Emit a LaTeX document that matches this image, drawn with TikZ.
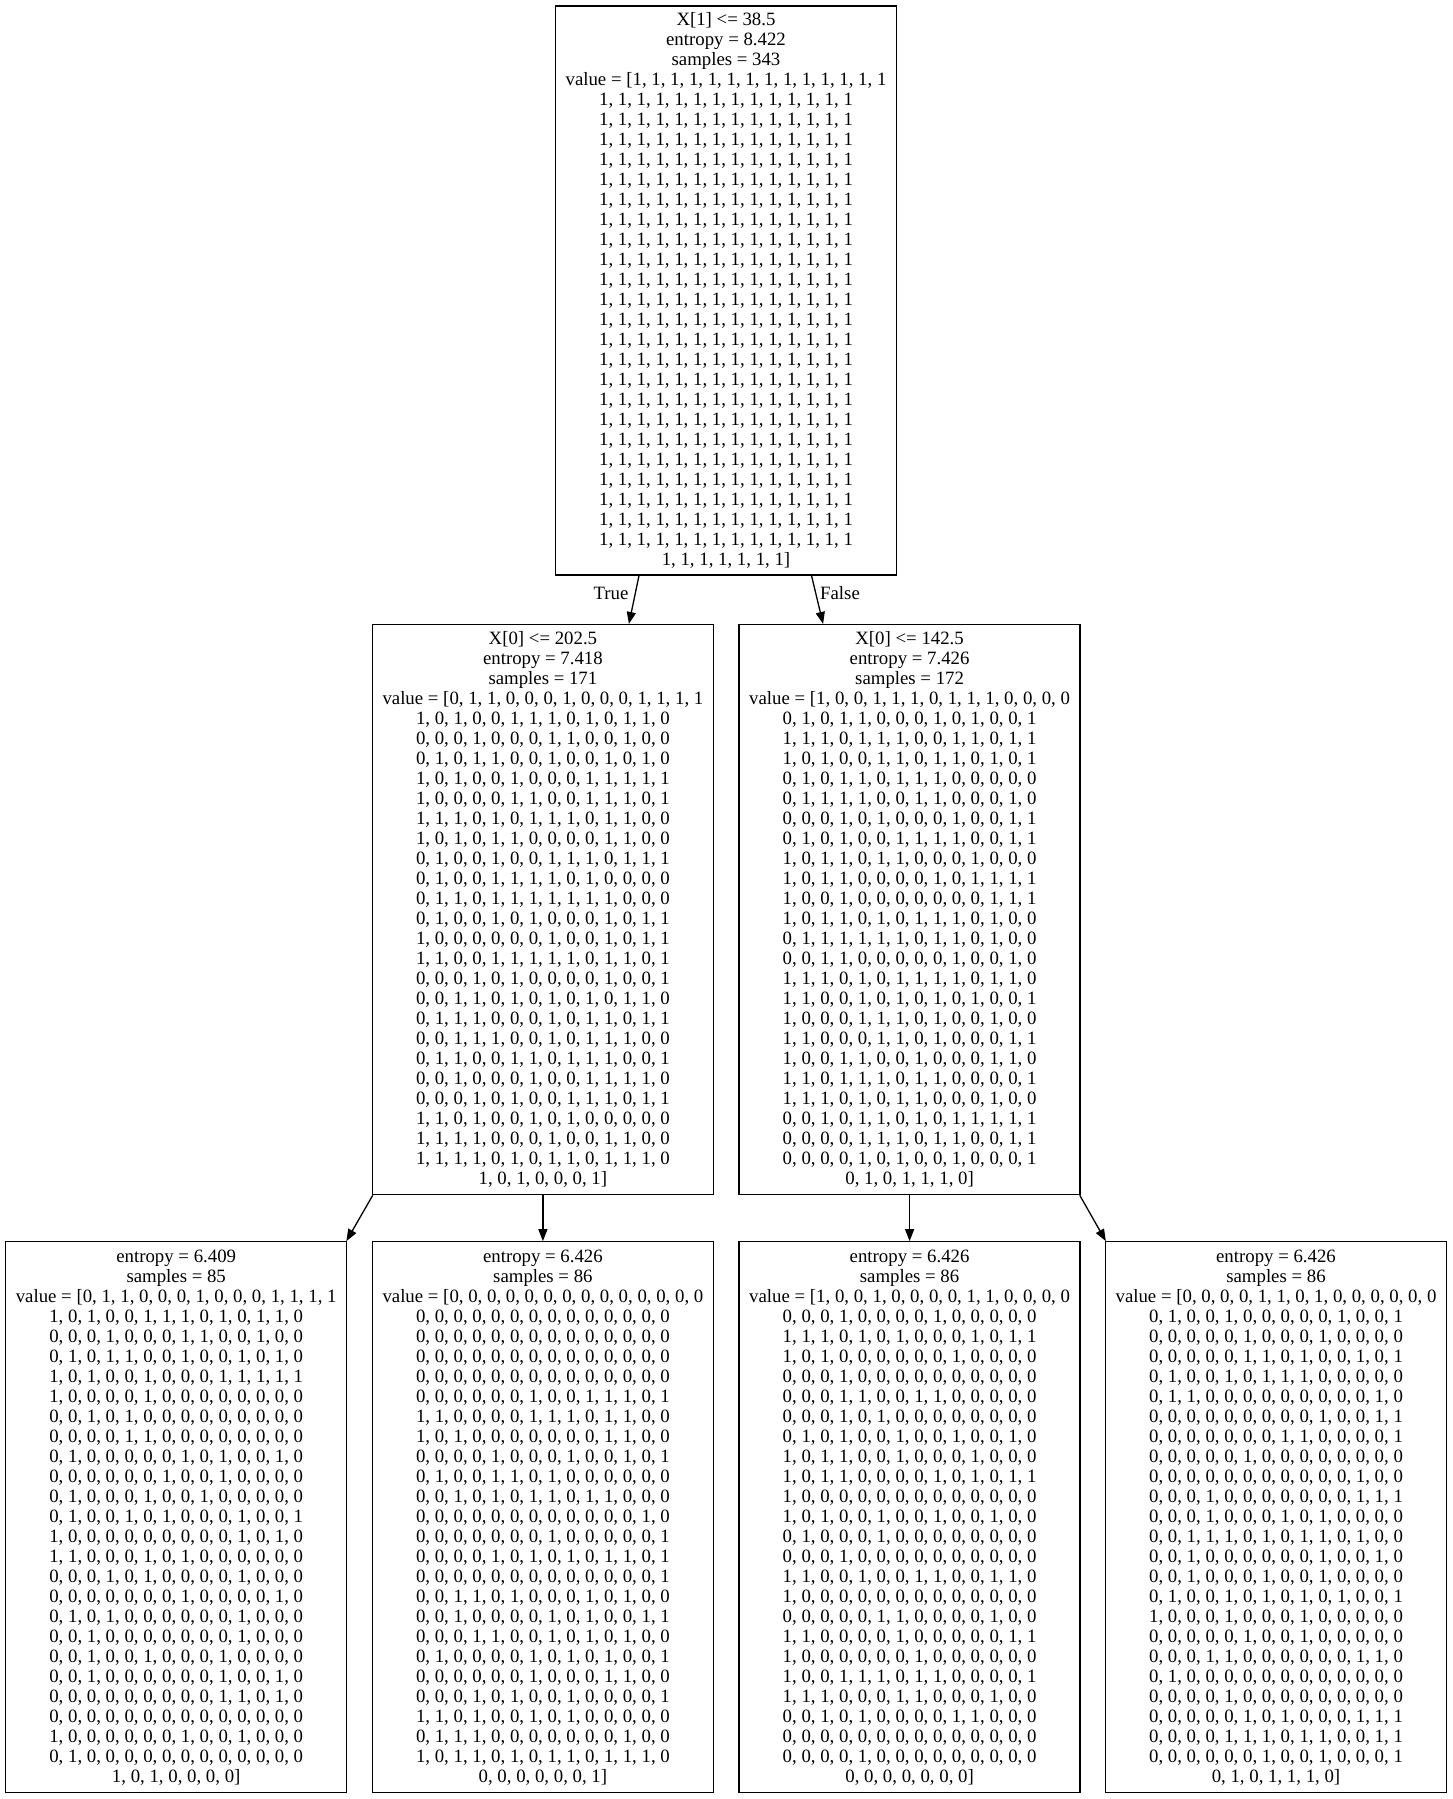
\documentclass[tikz,border=0pt]{standalone}
\usepackage{fontspec}
\setmainfont{Liberation Serif}
\usetikzlibrary{arrows.meta}
\newcommand\rootrow{1, 1, 1, 1, 1, 1, 1, 1, 1, 1, 1, 1, 1, 1}
\newcommand\zrow{0, 0, 0, 0, 0, 0, 0, 0, 0, 0, 0, 0, 0, 0}
\begin{document}
\begin{tikzpicture}[x=1pt,y=-1pt,
  tbox/.style={draw=black, line width=1.3pt, fill=white, minimum width=341pt, align=center, inner sep=0pt, font=\fontsize{18.8}{20}\selectfont},
  arr/.style={line width=1.3pt, -{Triangle[length=12pt,width=9pt]}},
  lbl/.style={font=\fontsize{18.8}{20}\selectfont, inner sep=0pt}]
\fill[white] (0,0) rectangle (1453,1799);
\useasboundingbox (0,0) rectangle (1453,1799);

\node[tbox, minimum height=569pt] (root) at (726,290.4) {X[1] <= 38.5\\
entropy = 8.422\\
samples = 343\\
value = [\rootrow\\
\rootrow\\ \rootrow\\ \rootrow\\ \rootrow\\ \rootrow\\
\rootrow\\ \rootrow\\ \rootrow\\ \rootrow\\ \rootrow\\
\rootrow\\ \rootrow\\ \rootrow\\ \rootrow\\ \rootrow\\
\rootrow\\ \rootrow\\ \rootrow\\ \rootrow\\ \rootrow\\
\rootrow\\ \rootrow\\ \rootrow\\
1, 1, 1, 1, 1, 1, 1]};

\node[tbox, minimum height=570pt] (lm) at (542.9,909.6) {X[0] <= 202.5\\
entropy = 7.418\\
samples = 171\\
value = [0, 1, 1, 0, 0, 0, 1, 0, 0, 0, 1, 1, 1, 1\\
1, 0, 1, 0, 0, 1, 1, 1, 0, 1, 0, 1, 1, 0\\
0, 0, 0, 1, 0, 0, 0, 1, 1, 0, 0, 1, 0, 0\\
0, 1, 0, 1, 1, 0, 0, 1, 0, 0, 1, 0, 1, 0\\
1, 0, 1, 0, 0, 1, 0, 0, 0, 1, 1, 1, 1, 1\\
1, 0, 0, 0, 0, 1, 1, 0, 0, 1, 1, 1, 0, 1\\
1, 1, 1, 0, 1, 0, 1, 1, 1, 0, 1, 1, 0, 0\\
1, 0, 1, 0, 1, 1, 0, 0, 0, 0, 1, 1, 0, 0\\
0, 1, 0, 0, 1, 0, 0, 1, 1, 1, 0, 1, 1, 1\\
0, 1, 0, 0, 1, 1, 1, 1, 0, 1, 0, 0, 0, 0\\
0, 1, 1, 0, 1, 1, 1, 1, 1, 1, 1, 0, 0, 0\\
0, 1, 0, 0, 1, 0, 1, 0, 0, 0, 1, 0, 1, 1\\
1, 0, 0, 0, 0, 0, 0, 1, 0, 0, 1, 0, 1, 1\\
1, 1, 0, 0, 1, 1, 1, 1, 1, 0, 1, 1, 0, 1\\
0, 0, 0, 1, 0, 1, 0, 0, 0, 0, 1, 0, 0, 1\\
0, 0, 1, 1, 0, 1, 0, 1, 0, 1, 0, 1, 1, 0\\
0, 1, 1, 1, 0, 0, 0, 1, 0, 1, 1, 0, 1, 1\\
0, 0, 1, 1, 1, 0, 0, 1, 0, 1, 1, 1, 0, 0\\
0, 1, 1, 0, 0, 1, 1, 0, 1, 1, 1, 0, 0, 1\\
0, 0, 1, 0, 0, 0, 1, 0, 0, 1, 1, 1, 1, 0\\
0, 0, 0, 1, 0, 1, 0, 0, 1, 1, 1, 0, 1, 1\\
1, 1, 0, 1, 0, 0, 1, 0, 1, 0, 0, 0, 0, 0\\
1, 1, 1, 1, 0, 0, 0, 1, 0, 0, 1, 1, 0, 0\\
1, 1, 1, 1, 0, 1, 0, 1, 1, 0, 1, 1, 1, 0\\
1, 0, 1, 0, 0, 0, 1]};

\node[tbox, minimum height=570pt] (rm) at (909.6,909.6) {X[0] <= 142.5\\
entropy = 7.426\\
samples = 172\\
value = [1, 0, 0, 1, 1, 1, 0, 1, 1, 1, 0, 0, 0, 0\\
0, 1, 0, 1, 1, 0, 0, 0, 1, 0, 1, 0, 0, 1\\
1, 1, 1, 0, 1, 1, 1, 0, 0, 1, 1, 0, 1, 1\\
1, 0, 1, 0, 0, 1, 1, 0, 1, 1, 0, 1, 0, 1\\
0, 1, 0, 1, 1, 0, 1, 1, 1, 0, 0, 0, 0, 0\\
0, 1, 1, 1, 1, 0, 0, 1, 1, 0, 0, 0, 1, 0\\
0, 0, 0, 1, 0, 1, 0, 0, 0, 1, 0, 0, 1, 1\\
0, 1, 0, 1, 0, 0, 1, 1, 1, 1, 0, 0, 1, 1\\
1, 0, 1, 1, 0, 1, 1, 0, 0, 0, 1, 0, 0, 0\\
1, 0, 1, 1, 0, 0, 0, 0, 1, 0, 1, 1, 1, 1\\
1, 0, 0, 1, 0, 0, 0, 0, 0, 0, 0, 1, 1, 1\\
1, 0, 1, 1, 0, 1, 0, 1, 1, 1, 0, 1, 0, 0\\
0, 1, 1, 1, 1, 1, 1, 0, 1, 1, 0, 1, 0, 0\\
0, 0, 1, 1, 0, 0, 0, 0, 0, 1, 0, 0, 1, 0\\
1, 1, 1, 0, 1, 0, 1, 1, 1, 1, 0, 1, 1, 0\\
1, 1, 0, 0, 1, 0, 1, 0, 1, 0, 1, 0, 0, 1\\
1, 0, 0, 0, 1, 1, 1, 0, 1, 0, 0, 1, 0, 0\\
1, 1, 0, 0, 0, 1, 1, 0, 1, 0, 0, 0, 1, 1\\
1, 0, 0, 1, 1, 0, 0, 1, 0, 0, 0, 1, 1, 0\\
1, 1, 0, 1, 1, 1, 0, 1, 1, 0, 0, 0, 0, 1\\
1, 1, 1, 0, 1, 0, 1, 1, 0, 0, 0, 1, 0, 0\\
0, 0, 1, 0, 1, 1, 0, 1, 0, 1, 1, 1, 1, 1\\
0, 0, 0, 0, 1, 1, 1, 0, 1, 1, 0, 0, 1, 1\\
0, 0, 0, 0, 1, 0, 1, 0, 0, 1, 0, 0, 0, 1\\
0, 1, 0, 1, 1, 1, 0]};

\node[tbox, minimum height=551pt] (l1) at (176.2,1517.3) {entropy = 6.409\\
samples = 85\\
value = [0, 1, 1, 0, 0, 0, 1, 0, 0, 0, 1, 1, 1, 1\\
1, 0, 1, 0, 0, 1, 1, 1, 0, 1, 0, 1, 1, 0\\
0, 0, 0, 1, 0, 0, 0, 1, 1, 0, 0, 1, 0, 0\\
0, 1, 0, 1, 1, 0, 0, 1, 0, 0, 1, 0, 1, 0\\
1, 0, 1, 0, 0, 1, 0, 0, 0, 1, 1, 1, 1, 1\\
1, 0, 0, 0, 0, 1, 0, 0, 0, 0, 0, 0, 0, 0\\
0, 0, 1, 0, 1, 0, 0, 0, 0, 0, 0, 0, 0, 0\\
0, 0, 0, 0, 1, 1, 0, 0, 0, 0, 0, 0, 0, 0\\
0, 1, 0, 0, 0, 0, 0, 1, 0, 1, 0, 0, 1, 0\\
0, 0, 0, 0, 0, 0, 1, 0, 0, 1, 0, 0, 0, 0\\
0, 1, 0, 0, 0, 1, 0, 0, 1, 0, 0, 0, 0, 0\\
0, 1, 0, 0, 1, 0, 1, 0, 0, 0, 1, 0, 0, 1\\
1, 0, 0, 0, 0, 0, 0, 0, 0, 0, 1, 0, 1, 0\\
1, 1, 0, 0, 0, 1, 0, 1, 0, 0, 0, 0, 0, 0\\
0, 0, 0, 1, 0, 1, 0, 0, 0, 0, 1, 0, 0, 0\\
0, 0, 0, 0, 0, 0, 0, 1, 0, 0, 0, 0, 1, 0\\
0, 1, 0, 1, 0, 0, 0, 0, 0, 0, 1, 0, 0, 0\\
0, 0, 1, 0, 0, 0, 0, 0, 0, 0, 1, 0, 0, 0\\
0, 0, 1, 0, 0, 1, 0, 0, 0, 1, 0, 0, 0, 0\\
0, 0, 1, 0, 0, 0, 0, 0, 0, 1, 0, 0, 1, 0\\
0, 0, 0, 0, 0, 0, 0, 0, 0, 1, 1, 0, 1, 0\\
\zrow\\
1, 0, 0, 0, 0, 0, 0, 1, 0, 0, 1, 0, 0, 0\\
0, 1, 0, 0, 0, 0, 0, 0, 0, 0, 0, 0, 0, 0\\
1, 0, 1, 0, 0, 0, 0]};

\node[tbox, minimum height=551pt] (l2) at (542.9,1517.3) {entropy = 6.426\\
samples = 86\\
value = [\zrow\\
\zrow\\ \zrow\\ \zrow\\ \zrow\\
0, 0, 0, 0, 0, 0, 1, 0, 0, 1, 1, 1, 0, 1\\
1, 1, 0, 0, 0, 0, 1, 1, 1, 0, 1, 1, 0, 0\\
1, 0, 1, 0, 0, 0, 0, 0, 0, 0, 1, 1, 0, 0\\
0, 0, 0, 0, 1, 0, 0, 0, 1, 0, 0, 1, 0, 1\\
0, 1, 0, 0, 1, 1, 0, 1, 0, 0, 0, 0, 0, 0\\
0, 0, 1, 0, 1, 0, 1, 1, 0, 1, 1, 0, 0, 0\\
0, 0, 0, 0, 0, 0, 0, 0, 0, 0, 0, 0, 1, 0\\
0, 0, 0, 0, 0, 0, 0, 1, 0, 0, 0, 0, 0, 1\\
0, 0, 0, 0, 1, 0, 1, 0, 1, 0, 1, 1, 0, 1\\
0, 0, 0, 0, 0, 0, 0, 0, 0, 0, 0, 0, 0, 1\\
0, 0, 1, 1, 0, 1, 0, 0, 0, 1, 0, 1, 0, 0\\
0, 0, 1, 0, 0, 0, 0, 1, 0, 1, 0, 0, 1, 1\\
0, 0, 0, 1, 1, 0, 0, 1, 0, 1, 0, 1, 0, 0\\
0, 1, 0, 0, 0, 0, 1, 0, 1, 0, 1, 0, 0, 1\\
0, 0, 0, 0, 0, 0, 1, 0, 0, 0, 1, 1, 0, 0\\
0, 0, 0, 1, 0, 1, 0, 0, 1, 0, 0, 0, 0, 1\\
1, 1, 0, 1, 0, 0, 1, 0, 1, 0, 0, 0, 0, 0\\
0, 1, 1, 1, 0, 0, 0, 0, 0, 0, 0, 1, 0, 0\\
1, 0, 1, 1, 0, 1, 0, 1, 1, 0, 1, 1, 1, 0\\
0, 0, 0, 0, 0, 0, 1]};

\node[tbox, minimum height=551pt] (l3) at (909.6,1517.3) {entropy = 6.426\\
samples = 86\\
value = [1, 0, 0, 1, 0, 0, 0, 0, 1, 1, 0, 0, 0, 0\\
0, 0, 0, 1, 0, 0, 0, 0, 1, 0, 0, 0, 0, 0\\
1, 1, 1, 0, 1, 0, 1, 0, 0, 0, 1, 0, 1, 1\\
1, 0, 1, 0, 0, 0, 0, 0, 0, 1, 0, 0, 0, 0\\
0, 0, 0, 1, 0, 0, 0, 0, 0, 0, 0, 0, 0, 0\\
0, 0, 0, 1, 1, 0, 0, 1, 1, 0, 0, 0, 0, 0\\
0, 0, 0, 1, 0, 1, 0, 0, 0, 0, 0, 0, 0, 0\\
0, 1, 0, 1, 0, 0, 1, 0, 0, 1, 0, 0, 1, 0\\
1, 0, 1, 1, 0, 0, 1, 0, 0, 0, 1, 0, 0, 0\\
1, 0, 1, 1, 0, 0, 0, 0, 1, 0, 1, 0, 1, 1\\
1, 0, 0, 0, 0, 0, 0, 0, 0, 0, 0, 0, 0, 0\\
1, 0, 1, 0, 0, 1, 0, 0, 1, 0, 0, 1, 0, 0\\
0, 1, 0, 0, 0, 1, 0, 0, 0, 0, 0, 0, 0, 0\\
0, 0, 0, 1, 0, 0, 0, 0, 0, 0, 0, 0, 0, 0\\
1, 1, 0, 0, 1, 0, 0, 1, 1, 0, 0, 1, 1, 0\\
1, 0, 0, 0, 0, 0, 0, 0, 0, 0, 0, 0, 0, 0\\
0, 0, 0, 0, 0, 1, 1, 0, 0, 0, 0, 1, 0, 0\\
1, 1, 0, 0, 0, 0, 1, 0, 0, 0, 0, 0, 1, 1\\
1, 0, 0, 0, 0, 0, 0, 1, 0, 0, 0, 0, 0, 0\\
1, 0, 0, 1, 1, 1, 0, 1, 1, 0, 0, 0, 0, 1\\
1, 1, 1, 0, 0, 0, 1, 1, 0, 0, 0, 1, 0, 0\\
0, 0, 1, 0, 1, 0, 0, 0, 0, 1, 1, 0, 0, 0\\
\zrow\\
0, 0, 0, 0, 1, 0, 0, 0, 0, 0, 0, 0, 0, 0\\
0, 0, 0, 0, 0, 0, 0]};

\node[tbox, minimum height=551pt] (l4) at (1276,1517.3) {entropy = 6.426\\
samples = 86\\
value = [0, 0, 0, 0, 1, 1, 0, 1, 0, 0, 0, 0, 0, 0\\
0, 1, 0, 0, 1, 0, 0, 0, 0, 0, 1, 0, 0, 1\\
0, 0, 0, 0, 0, 1, 0, 0, 0, 1, 0, 0, 0, 0\\
0, 0, 0, 0, 0, 1, 1, 0, 1, 0, 0, 1, 0, 1\\
0, 1, 0, 0, 1, 0, 1, 1, 1, 0, 0, 0, 0, 0\\
0, 1, 1, 0, 0, 0, 0, 0, 0, 0, 0, 0, 1, 0\\
0, 0, 0, 0, 0, 0, 0, 0, 0, 1, 0, 0, 1, 1\\
0, 0, 0, 0, 0, 0, 0, 1, 1, 0, 0, 0, 0, 1\\
0, 0, 0, 0, 0, 1, 0, 0, 0, 0, 0, 0, 0, 0\\
0, 0, 0, 0, 0, 0, 0, 0, 0, 0, 0, 1, 0, 0\\
0, 0, 0, 1, 0, 0, 0, 0, 0, 0, 0, 1, 1, 1\\
0, 0, 0, 1, 0, 0, 0, 1, 0, 1, 0, 0, 0, 0\\
0, 0, 1, 1, 1, 0, 1, 0, 1, 1, 0, 1, 0, 0\\
0, 0, 1, 0, 0, 0, 0, 0, 0, 1, 0, 0, 1, 0\\
0, 0, 1, 0, 0, 0, 1, 0, 0, 1, 0, 0, 0, 0\\
0, 1, 0, 0, 1, 0, 1, 0, 1, 0, 1, 0, 0, 1\\
1, 0, 0, 0, 1, 0, 0, 0, 1, 0, 0, 0, 0, 0\\
0, 0, 0, 0, 0, 1, 0, 0, 1, 0, 0, 0, 0, 0\\
0, 0, 0, 1, 1, 0, 0, 0, 0, 0, 0, 1, 1, 0\\
0, 1, 0, 0, 0, 0, 0, 0, 0, 0, 0, 0, 0, 0\\
0, 0, 0, 0, 1, 0, 0, 0, 0, 0, 0, 0, 0, 0\\
0, 0, 0, 0, 0, 1, 0, 1, 0, 0, 0, 1, 1, 1\\
0, 0, 0, 0, 1, 1, 1, 0, 1, 1, 0, 0, 1, 1\\
0, 0, 0, 0, 0, 0, 1, 0, 0, 1, 0, 0, 0, 1\\
0, 1, 0, 1, 1, 1, 0]};

\draw[arr] ([xshift=-87pt]root.south) -- ([xshift=86pt]lm.north);
\draw[arr] ([xshift=85.5pt]root.south) -- ([xshift=-86.5pt]rm.north);
\draw[arr] ([xshift=1pt]lm.south west) -- ([xshift=-1pt]l1.north east);
\draw[arr] (lm.south) -- (l2.north);
\draw[arr] (rm.south) -- (l3.north);
\draw[arr] ([xshift=-1pt]rm.south east) -- ([xshift=1pt]l4.north west);

\node[lbl] (ltrue) at (611,593) {True};
\node[lbl] (lfalse) at (840,593) {False};
\end{tikzpicture}
\end{document}
